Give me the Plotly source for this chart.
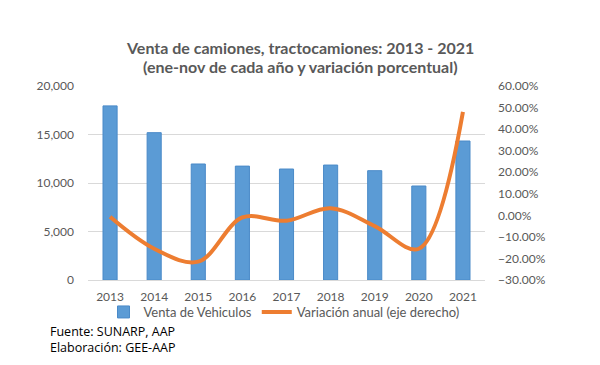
import plotly.graph_objects as go

years = ["2013", "2014", "2015", "2016", "2017", "2018", "2019", "2020", "2021"]
ventas = [17950, 15190, 11960, 11740, 11440, 11850, 11270, 9690, 14330]
variacion = [-0.007, -0.155, -0.215, -0.01, -0.025, 0.033, -0.05, -0.155, 0.48]
left_ticks = [0, 5000, 10000, 15000, 20000]
right_ticks = [-0.3, -0.2, -0.1, 0.0, 0.1, 0.2, 0.3, 0.4, 0.5, 0.6]
title_lines = ["Venta de camiones, tractocamiones: 2013 - 2021",
               "(ene-nov de cada año y variación porcentual)"]
notes = ["Fuente: SUNARP, AAP", "Elaboración: GEE-AAP"]

FONT = "Lato"
GREY = "#595959"
PT, PB, PL, PR = 86, 280, 88, 485  # plot area pixel edges
PH, PW = PB - PT, PR - PL

def py(y):
    return (PB - y) / PH

def px(x):
    return (x - PL) / PW

fig = go.Figure()
fig.add_trace(go.Bar(
    x=years, y=ventas, name="Venta de Vehiculos",
    marker=dict(color="#5B9BD5", line=dict(color="#4A8AC8", width=1)),
    yaxis="y",
))
fig.add_trace(go.Scatter(
    x=years, y=variacion, name="Variación anual (eje derecho)",
    mode="lines", line=dict(color="#ED7D31", width=4, shape="spline", smoothing=1.0),
    yaxis="y2",
))

annotations = []
for txt, yy in zip(title_lines, [47, 67]):
    annotations.append(dict(text="<b>" + txt + "</b>", xref="paper", yref="paper",
                            x=px(300), y=py(yy), xanchor="center", yanchor="middle",
                            showarrow=False, font=dict(family=FONT, size=16, color=GREY)))
for txt, yy in zip(notes, [331, 347]):
    annotations.append(dict(text=txt, xref="paper", yref="paper",
                            x=px(48), y=py(yy), xanchor="left", yanchor="middle",
                            showarrow=False, font=dict(family="Open Sans", size=12.5, color="#000000")))

fig.update_layout(
    width=600, height=365,
    margin=dict(l=PL, r=600 - PR, t=PT, b=365 - PB, autoexpand=False),
    paper_bgcolor="white", plot_bgcolor="white",
    font=dict(family=FONT, color=GREY, size=12),
    bargap=0.68,
    showlegend=True,
    legend=dict(orientation="h", x=px(284), xanchor="center", y=py(312), yanchor="middle",
                bgcolor="rgba(0,0,0,0)",
                font=dict(size=13, color=GREY), itemwidth=30, tracegroupgap=0),
    xaxis=dict(type="category", showgrid=False, showline=True, linecolor="#d9d9d9",
               linewidth=1, ticks="", ticklabelstandoff=6, tickfont=dict(size=12, color=GREY)),
    yaxis=dict(range=[0, 20000], tickvals=left_ticks, tickformat=",", showgrid=True,
               gridcolor="#d9d9d9", zeroline=False, showline=False, ticks="",
               ticklabelstandoff=13, tickfont=dict(size=12, color=GREY)),
    yaxis2=dict(range=[-0.3, 0.6], tickvals=right_ticks, tickformat=".2%", overlaying="y",
                side="right", showgrid=False, zeroline=False, showline=False, ticks="",
                ticklabelstandoff=12, tickfont=dict(size=12, color=GREY)),
    annotations=annotations,
)

fig.write_html("out.html", config={"displayModeBar": False},
               post_script="document.body.style.margin='0';")
